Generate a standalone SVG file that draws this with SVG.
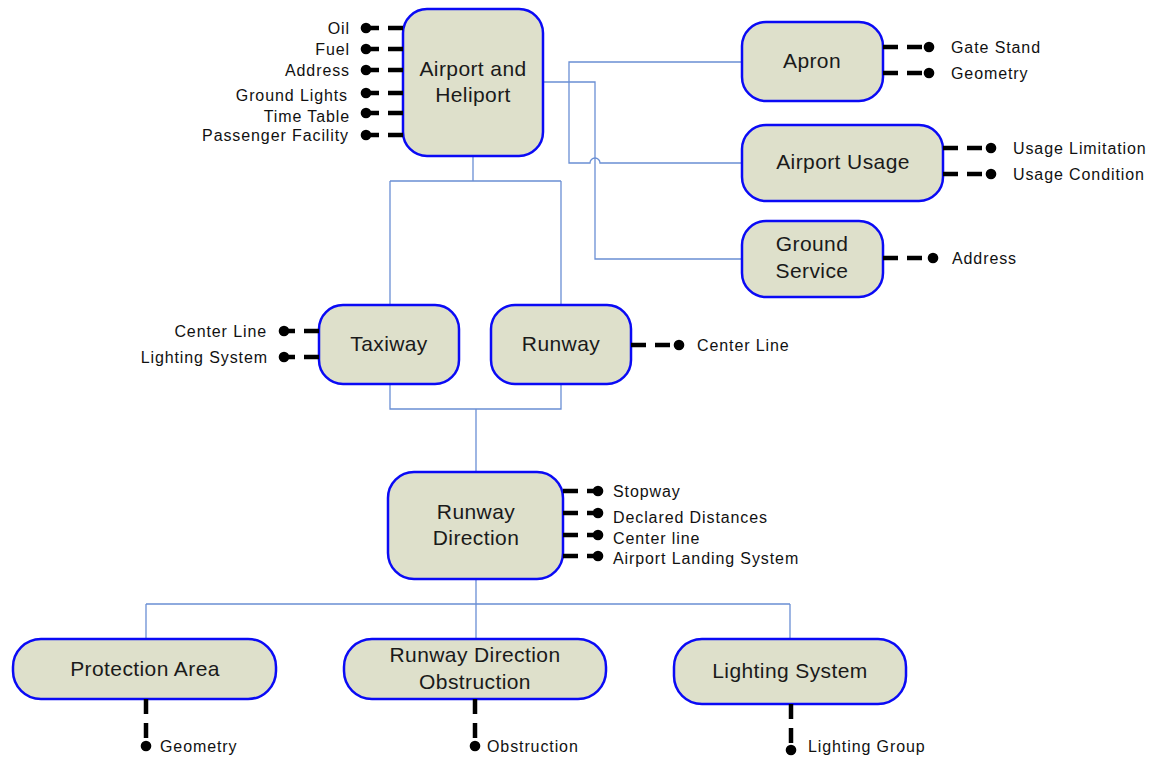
<svg xmlns="http://www.w3.org/2000/svg" width="1167" height="758" viewBox="0 0 1167 758">
<style>
.node{fill:#dee0cb;stroke:#0a0af5;stroke-width:2.5}
.nt{font-family:"Liberation Sans",Arial,sans-serif;font-size:21px;fill:#1a1a1a;text-anchor:middle;letter-spacing:0.4px}
.lb{font-family:"Liberation Sans",Arial,sans-serif;font-size:16px;fill:#111;letter-spacing:0.9px}
.e{text-anchor:end}
.conn{fill:none;stroke:#6a8fd4;stroke-width:1.3}
.att{fill:none;stroke:#000;stroke-width:4.5;stroke-dasharray:15 9}
.dot{fill:#000}
</style>
<rect width="1167" height="758" fill="#fff"/>
<g id="connectors">
<path class="conn" d="M473,156 V181 M390,181 H561 M390,181 V305 M561,181 V305"/>
<path class="conn" d="M390,384 V409 H561 V384 M476,409 V472"/>
<path class="conn" d="M476,579 V604 M146,604 H790 M146,604 V639 M476,604 V639 M790,604 V639"/>
<path class="conn" d="M543,82 H595 V259 H742"/>
<path class="conn" d="M742,62 H569 V163 H590 A5,5 0 0 1 600,163 H742"/>
</g>
<g id="airport">
<rect class="node" x="403" y="9" width="140" height="147" rx="24"/>
<text class="nt" x="473" y="76">Airport and</text>
<text class="nt" x="473" y="102">Heliport</text>
<path class="att" d="M403,28 H366 M403,49 H366 M403,70 H366 M403,93 H366 M403,113 H366 M403,135 H366"/>
<circle class="dot" cx="366" cy="28" r="5.3"/><circle class="dot" cx="366" cy="49" r="5.3"/><circle class="dot" cx="366" cy="70" r="5.3"/><circle class="dot" cx="366" cy="93" r="5.3"/><circle class="dot" cx="366" cy="113" r="5.3"/><circle class="dot" cx="366" cy="135" r="5.3"/>
<text class="lb e" x="350" y="34">Oil</text>
<text class="lb e" x="350" y="55">Fuel</text>
<text class="lb e" x="350" y="76">Address</text>
<text class="lb e" x="348" y="101">Ground Lights</text>
<text class="lb e" x="350" y="122">Time Table</text>
<text class="lb e" x="349" y="141">Passenger Facility</text>
</g>
<g id="apron">
<rect class="node" x="742" y="22" width="141" height="79" rx="24"/>
<text class="nt" x="812" y="68">Apron</text>
<path class="att" d="M883,47 H929 M883,73 H929"/>
<circle class="dot" cx="929" cy="47" r="5.3"/><circle class="dot" cx="929" cy="73" r="5.3"/>
<text class="lb" x="951" y="53">Gate Stand</text>
<text class="lb" x="951" y="79">Geometry</text>
</g>
<g id="usage">
<rect class="node" x="742" y="125" width="201" height="76" rx="24"/>
<text class="nt" x="843" y="169">Airport Usage</text>
<path class="att" d="M943,148 H991 M943,174 H991"/>
<circle class="dot" cx="991" cy="148" r="5.3"/><circle class="dot" cx="991" cy="174" r="5.3"/>
<text class="lb" x="1013" y="154">Usage Limitation</text>
<text class="lb" x="1013" y="180">Usage Condition</text>
</g>
<g id="ground">
<rect class="node" x="742" y="221" width="141" height="76" rx="24"/>
<text class="nt" x="812" y="251">Ground</text>
<text class="nt" x="812" y="278">Service</text>
<path class="att" d="M883,258 H933"/>
<circle class="dot" cx="933" cy="258" r="5.3"/>
<text class="lb" x="952" y="264">Address</text>
</g>
<g id="taxiway">
<rect class="node" x="319" y="305" width="140" height="79" rx="24"/>
<text class="nt" x="389" y="351">Taxiway</text>
<path class="att" d="M319,331 H284 M319,357 H284"/>
<circle class="dot" cx="284" cy="331" r="5.3"/><circle class="dot" cx="284" cy="357" r="5.3"/>
<text class="lb e" x="267" y="337">Center Line</text>
<text class="lb e" x="268" y="363">Lighting System</text>
</g>
<g id="runway">
<rect class="node" x="491" y="305" width="140" height="79" rx="24"/>
<text class="nt" x="561" y="351">Runway</text>
<path class="att" d="M631,345 H679"/>
<circle class="dot" cx="679" cy="345" r="5.3"/>
<text class="lb" x="697" y="351">Center Line</text>
</g>
<g id="rwydir">
<rect class="node" x="388" y="472" width="175" height="107" rx="26"/>
<text class="nt" x="476" y="519">Runway</text>
<text class="nt" x="476" y="545">Direction</text>
<path class="att" d="M563,491 H598 M563,513 H598 M563,535 H598 M563,556 H598"/>
<circle class="dot" cx="598" cy="491" r="5.3"/><circle class="dot" cx="598" cy="513" r="5.3"/><circle class="dot" cx="598" cy="535" r="5.3"/><circle class="dot" cx="598" cy="556" r="5.3"/>
<text class="lb" x="613" y="497">Stopway</text>
<text class="lb" x="613" y="523">Declared Distances</text>
<text class="lb" x="613" y="544">Center line</text>
<text class="lb" x="613" y="564">Airport Landing System</text>
</g>
<g id="protection">
<rect class="node" x="13" y="639" width="263" height="60" rx="28"/>
<text class="nt" x="145" y="676">Protection Area</text>
<path class="att" d="M146,699 V746"/>
<circle class="dot" cx="146" cy="746" r="5.3"/>
<text class="lb" x="160" y="752">Geometry</text>
</g>
<g id="obstruction">
<rect class="node" x="344" y="639" width="262" height="60" rx="28"/>
<text class="nt" x="475" y="662">Runway Direction</text>
<text class="nt" x="475" y="689">Obstruction</text>
<path class="att" d="M475,699 V746"/>
<circle class="dot" cx="475" cy="746" r="5.3"/>
<text class="lb" x="487" y="752">Obstruction</text>
</g>
<g id="lighting">
<rect class="node" x="674" y="639" width="232" height="65" rx="28"/>
<text class="nt" x="790" y="678">Lighting System</text>
<path class="att" d="M791,704 V750"/>
<circle class="dot" cx="791" cy="750" r="5.3"/>
<text class="lb" x="808" y="752">Lighting Group</text>
</g>
</svg>
